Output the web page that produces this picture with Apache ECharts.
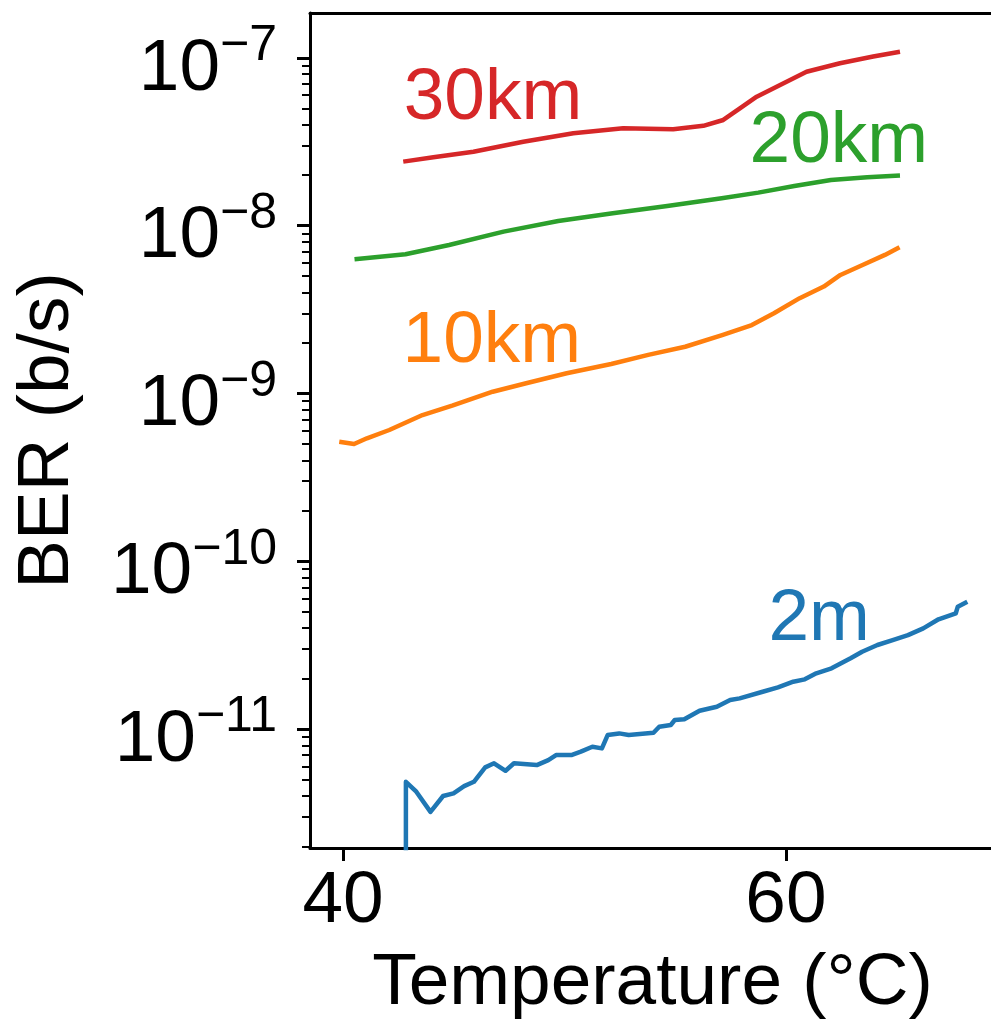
<!DOCTYPE html>
<html>
<head>
<meta charset="utf-8">
<script src="https://cdn.jsdelivr.net/npm/echarts@6/dist/echarts.min.js"></script>
<style>
  html, body { margin: 0; padding: 0; background: #fff; }
  #main { width: 991px; height: 1022px; }
</style>
</head>
<body>
<div id="main"></div>
<script>
// temperature (°C) / BER readings per distance
const temp30km = [42.72, 44.08, 45.89, 48.14, 50.40, 52.65, 54.91, 56.27, 57.17, 57.92, 58.68, 59.58, 60.93, 62.44, 63.94, 65.15];
const ber30km  = [2.41e-8, 2.56e-8, 2.76e-8, 3.17e-8, 3.56e-8, 3.81e-8, 3.76e-8, 3.94e-8, 4.27e-8, 5.01e-8, 5.88e-8, 6.74e-8, 8.28e-8, 9.30e-8, 1.02e-7, 1.09e-7];

const temp20km = [40.52, 42.82, 44.79, 47.25, 49.72, 52.18, 54.64, 57.10, 58.75, 60.38, 62.03, 63.67, 65.15];
const ber20km  = [6.31e-9, 6.76e-9, 7.68e-9, 9.22e-9, 1.067e-8, 1.186e-8, 1.312e-8, 1.459e-8, 1.575e-8, 1.726e-8, 1.875e-8, 1.945e-8, 1.99e-8];

const temp10km = [39.83, 40.50, 41.08, 42.09, 43.59, 44.93, 46.76, 48.27, 50.10, 52.11, 53.78, 55.45, 57.12, 58.46, 59.46, 60.62, 61.71, 62.46, 63.46, 64.47, 65.13];
const ber10km  = [5.16e-10, 5.00e-10, 5.41e-10, 6.06e-10, 7.44e-10, 8.46e-10, 1.025e-9, 1.151e-9, 1.32e-9, 1.50e-9, 1.70e-9, 1.90e-9, 2.23e-9, 2.56e-9, 3.01e-9, 3.70e-9, 4.34e-9, 5.09e-9, 5.83e-9, 6.70e-9, 7.45e-9];

const temp2m = [42.84, 42.84, 43.31, 43.95, 44.52, 44.99, 45.47, 45.91, 46.42, 46.82, 47.34, 47.72, 48.75, 49.27, 49.62, 50.31, 50.74, 51.26, 51.69, 51.95, 52.47, 52.90, 54.02, 54.28, 54.80, 54.98, 55.41, 56.10, 56.88, 57.48, 57.91, 58.95, 59.64, 60.33, 60.85, 61.37, 62.06, 62.92, 63.44, 64.13, 64.82, 65.51, 66.20, 66.89, 67.67, 67.76, 68.19];
const ber2m  = [1e-13, 4.85e-12, 4.23e-12, 3.21e-12, 3.99e-12, 4.14e-12, 4.57e-12, 4.85e-12, 5.91e-12, 6.25e-12, 5.64e-12, 6.25e-12, 6.10e-12, 6.53e-12, 7.00e-12, 7.00e-12, 7.33e-12, 7.84e-12, 7.67e-12, 9.21e-12, 9.42e-12, 9.21e-12, 9.51e-12, 1.033e-11, 1.057e-11, 1.132e-11, 1.143e-11, 1.286e-11, 1.358e-11, 1.489e-11, 1.524e-11, 1.668e-11, 1.773e-11, 1.915e-11, 1.978e-11, 2.15e-11, 2.30e-11, 2.64e-11, 2.89e-11, 3.17e-11, 3.39e-11, 3.63e-11, 3.98e-11, 4.51e-11, 4.90e-11, 5.36e-11, 5.74e-11];

const xTicks = [40, 60];
const yTicks = [1e-11, 1e-10, 1e-9, 1e-8, 1e-7];
const yMinorTicks = [];
for (let e = -12; e <= -7; e++) {
    for (let m = 2; m <= 9; m++) yMinorTicks.push(m * Math.pow(10, e));
}

// label anchors [temperature, BER]
const labels = [
    { text: '30km', at: [42.74, 5.70e-8], color: '#d62728' },
    { text: '20km', at: [58.36, 3.15e-8], color: '#2ca02c' },
    { text: '10km', at: [42.69, 2.03e-9], color: '#ff7f0e' },
    { text: '2m', at: [59.21, 4.45e-11], color: '#1f77b4' }
];

const FONT = 'Liberation Sans, Arial, sans-serif';
const xMin = 38.51, xMax = 69.44;
const yMin = Math.pow(10, -11.709), yMax = Math.pow(10, -6.732);

function pairs(xs, ys) {
    return xs.map((x, i) => [x, ys[i]]);
}

function lineSeries(name, xs, ys, color, lab) {
    return {
        name: name,
        type: 'line',
        data: pairs(xs, ys),
        showSymbol: false,
        symbol: 'none',
        clip: true,
        lineStyle: { color: color, width: 4.5, join: 'round', cap: 'butt' },
        itemStyle: { color: color },
        markPoint: {
            symbol: 'circle',
            symbolSize: 0,
            data: [{
                coord: lab.at,
                label: {
                    show: true,
                    position: 'right',
                    distance: 0,
                    formatter: lab.text,
                    color: color,
                    fontSize: 73,
                    fontFamily: FONT
                }
            }]
        }
    };
}

const option = {
    animation: false,
    backgroundColor: '#fff',
    grid: { left: 310, right: -4, top: 13, bottom: 174, containLabel: false, outerBoundsMode: 'none' },
    xAxis: [
        {
            type: 'value',
            min: xMin,
            max: xMax,
            name: 'Temperature (°C)',
            nameLocation: 'middle',
            nameGap: 99,
            nameTextStyle: { color: '#000', fontSize: 73, fontFamily: FONT },
            axisLine: { show: true, onZero: false, lineStyle: { color: '#000', width: 3 } },
            axisTick: { show: true, customValues: xTicks, length: 13, lineStyle: { color: '#000', width: 3 } },
            axisLabel: { customValues: xTicks, margin: 17, color: '#000', fontSize: 73, fontFamily: FONT },
            splitLine: { show: false }
        },
        {
            type: 'value',
            position: 'top',
            min: xMin,
            max: xMax,
            axisLine: { show: true, onZero: false, lineStyle: { color: '#000', width: 3 } },
            axisTick: { show: false },
            axisLabel: { show: false },
            splitLine: { show: false }
        }
    ],
    yAxis: [
        {
            type: 'log',
            logBase: 10,
            min: yMin,
            max: yMax,
            position: 'left',
            name: 'BER (b/s)',
            nameLocation: 'middle',
            nameGap: 226,
            nameRotate: 90,
            nameTextStyle: { color: '#000', fontSize: 73, fontFamily: FONT },
            axisLine: { show: true, onZero: false, lineStyle: { color: '#000', width: 3 } },
            axisTick: { show: true, customValues: yTicks, length: 13, lineStyle: { color: '#000', width: 3 } },
            axisLabel: {
                customValues: yTicks,
                margin: 33,
                color: '#000',
                fontFamily: FONT,
                formatter: function (v) {
                    const e = Math.round(Math.log10(v));
                    return '{b|10}{s|\u2212' + (-e) + '}';
                },
                rich: {
                    b: { fontSize: 73, lineHeight: 73, padding: [31, 0, 8, 0], color: '#000', fontFamily: FONT },
                    s: { fontSize: 50, lineHeight: 50, verticalAlign: 'top', color: '#000', fontFamily: FONT }
                }
            },
            splitLine: { show: false }
        },
        {
            type: 'log',
            logBase: 10,
            min: yMin,
            max: yMax,
            position: 'left',
            axisLine: { show: false },
            axisTick: { show: true, customValues: yMinorTicks, length: 8, lineStyle: { color: '#000', width: 2 } },
            axisLabel: { show: false },
            splitLine: { show: false }
        }
    ],
    series: [
        lineSeries('2m', temp2m, ber2m, '#1f77b4', labels[3]),
        lineSeries('10km', temp10km, ber10km, '#ff7f0e', labels[2]),
        lineSeries('20km', temp20km, ber20km, '#2ca02c', labels[1]),
        lineSeries('30km', temp30km, ber30km, '#d62728', labels[0])
    ]
};

const myChart = echarts.init(document.getElementById('main'));
myChart.setOption(option);
</script>
</body>
</html>
